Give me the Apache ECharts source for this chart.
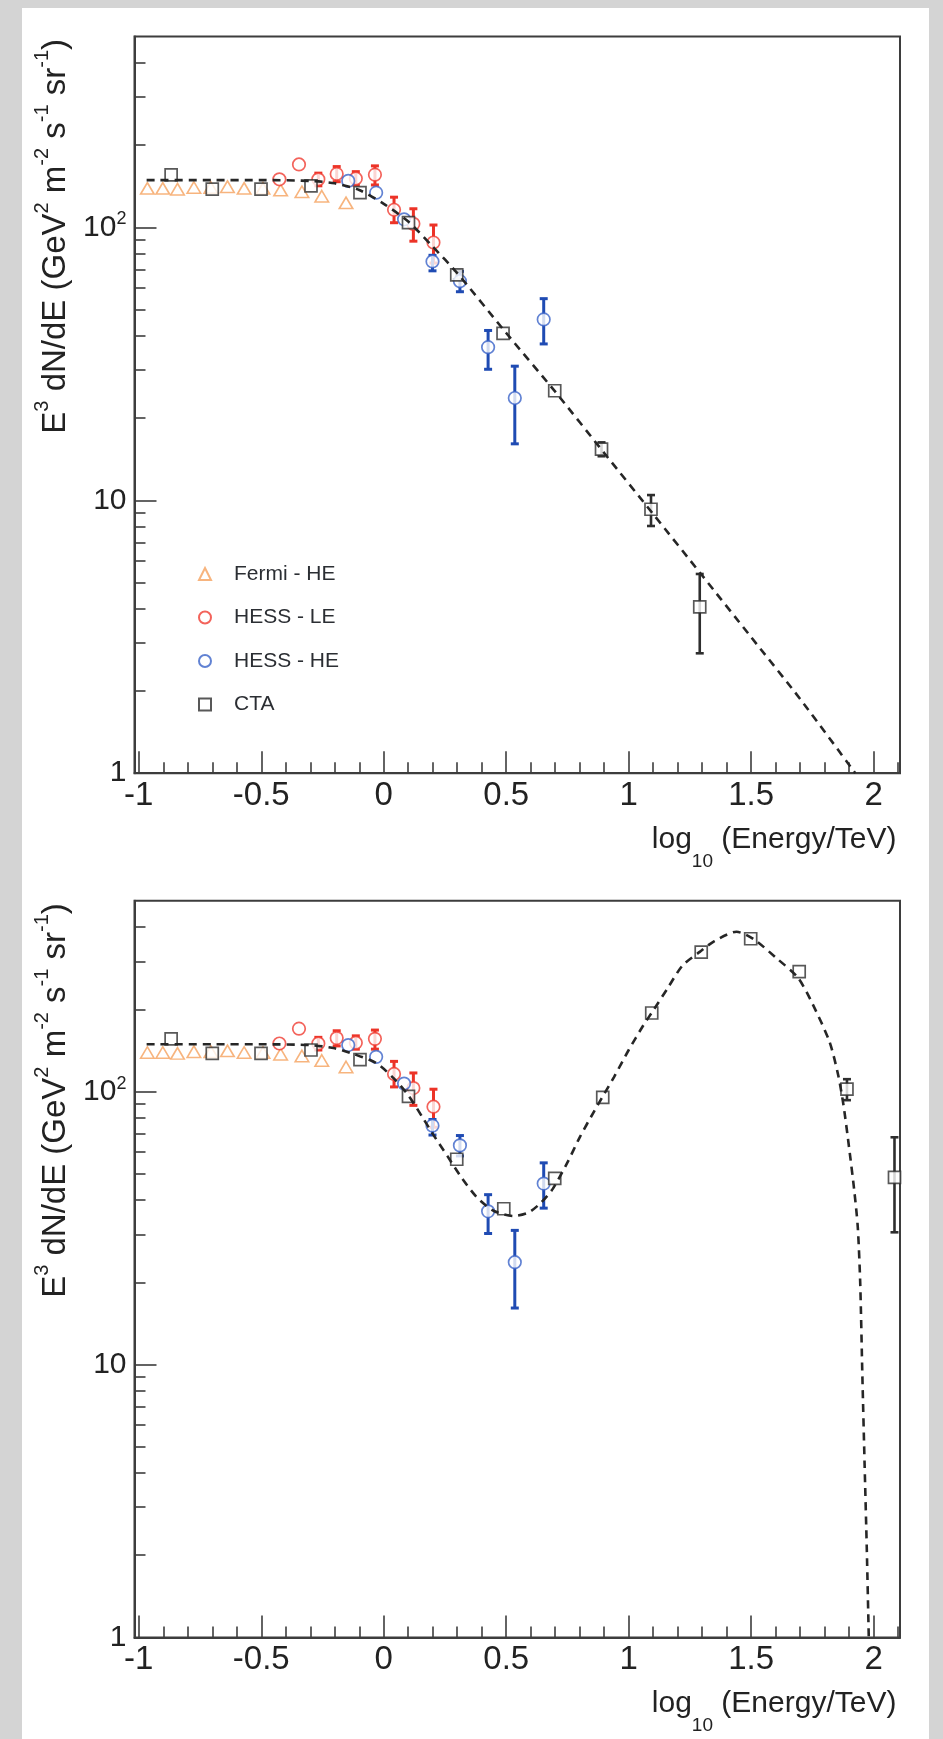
<!DOCTYPE html>
<html>
<head>
<meta charset="utf-8">
<script src="https://cdn.jsdelivr.net/npm/echarts@6/dist/echarts.min.js"></script>
<style>
  html, body { margin: 0; padding: 0; background: #d4d4d4; overflow: hidden; }
  #sheet { position: absolute; left: 22px; top: 8px; width: 907px; height: 1731px; background: #ffffff; }
  #chart { position: absolute; left: 0; top: 0; width: 943px; height: 1739px; }
</style>
</head>
<body>
<div id="sheet"></div>
<div id="chart"></div>
<script>
// ---- Tick positions ----
const xTickValues = [-1, -0.5, 0, 0.5, 1, 1.5, 2];
const xMinorTickValues = [-0.9, -0.8, -0.7, -0.6, -0.4, -0.3, -0.2, -0.1, 0.1, 0.2, 0.3, 0.4,
  0.6, 0.7, 0.8, 0.9, 1.1, 1.2, 1.3, 1.4, 1.6, 1.7, 1.8, 1.9, 2.1];
const yTickValues = [1, 10, 100];
const yMinorTickValues = [2, 3, 4, 5, 6, 7, 8, 9, 20, 30, 40, 50, 60, 70, 80, 90, 200, 300, 400];

// ---- Fermi - HE (same in both panels) ----
const fermiX = [-0.965, -0.902, -0.842, -0.775, -0.706, -0.638, -0.570, -0.493, -0.421, -0.334, -0.253, -0.154];
const fermiY = [139, 139, 138, 140, 140, 141, 139, 139, 137, 135, 130, 123];

// ---- HESS - LE ----
const hessLeX = [-0.426, -0.346, -0.267, -0.192, -0.114, -0.036, 0.042, 0.121, 0.203];
const hessLeY = [150, 170, 150, 157, 151, 156, 116, 103, 88];
const hessLeLow = [null, null, 142, 147, 143, 143, 104, 89, 74];
const hessLeHigh = [null, null, 158, 167, 160, 168, 129, 117, 102];

// ---- HESS - HE ----
const hessHeX = [-0.145, -0.031, 0.083, 0.199, 0.311, 0.426, 0.535, 0.653];
const hessHeY = [148, 134, 107, 75, 63.5, 36.4, 23.7, 46];
const hessHeLow = [null, null, null, 69.3, 58.1, 30.2, 16.1, 37.4];
const hessHeHigh = [null, null, null, 79, 69, 41.9, 31, 54.8];

// ---- CTA, upper panel ----
const ctaTopX = [-0.868, -0.700, -0.501, -0.297, -0.097, 0.101, 0.298, 0.487, 0.698, 0.889, 1.091, 1.290];
const ctaTopY = [155.6, 138, 138, 142, 134, 104, 67, 40.9, 25.2, 15.4, 9.27, 4.07];
const ctaTopLow = [null, null, null, null, null, null, 64.5, null, null, 14.5, 8.05, 2.75];
const ctaTopHigh = [null, null, null, null, null, null, 69.5, null, null, 16.3, 10.45, 5.37];

// ---- CTA, lower panel ----
const ctaBotX = [-0.868, -0.700, -0.501, -0.297, -0.097, 0.101, 0.298, 0.490, 0.698, 0.894, 1.094, 1.296, 1.498, 1.696, 1.891, 2.085];
const ctaBotY = [156, 138, 138, 142, 131, 96, 56.5, 37.2, 48.1, 95.2, 194, 324, 363, 275, 102, 48.5];
const ctaBotLow = [null, null, null, null, null, null, null, null, null, null, null, null, null, null, 93, 30.5];
const ctaBotHigh = [null, null, null, null, null, null, null, null, null, null, null, null, null, null, 111, 68];

// ---- Model curves (dashed) ----
const modelTopX = [-0.968, -0.7, -0.5, -0.3, -0.2, -0.1, 0, 0.1, 0.2, 0.3, 0.5, 0.7, 0.9, 1.1, 1.3, 1.5, 1.7, 1.925];
const modelTopY = [149, 149, 149, 148, 145, 137, 122, 105, 85, 68, 41, 25, 14.9, 8.9, 5.3, 3.15, 1.87, 1.0];

const modelBotX = [-0.968, -0.7, -0.5, -0.3, -0.2, -0.12, -0.03, 0.04, 0.1, 0.16, 0.2, 0.26, 0.32, 0.38,
  0.45, 0.53, 0.59, 0.64, 0.69, 0.75, 0.80, 0.86, 0.90, 0.94, 1.0, 1.06, 1.10, 1.16, 1.22, 1.29, 1.35,
  1.44, 1.51, 1.60, 1.69, 1.75, 1.82, 1.856, 1.877, 1.90, 1.92, 1.935, 1.945, 1.954, 1.963, 1.972, 1.98];
const modelBotY = [149, 149, 149, 148, 144, 137, 127, 112, 97, 80, 70, 58, 48, 41,
  36.5, 35, 36, 39, 44, 55, 68, 85, 98, 113, 142, 175, 198, 240, 290, 325, 356,
  385, 362, 310, 262, 210, 152, 114, 89, 62, 44, 32, 20, 9, 4.3, 2.1, 1.0];

// ---- Styling ----
const FONT = '"Liberation Sans", Arial, Helvetica, sans-serif';
const AXIS_COLOR = '#3d3d3d';
const TEXT_COLOR = '#222222';
const C_FERMI = '#f5a15e';
const C_LE = '#f03c32';
const C_LE_BAR = '#ec3327';
const C_HE = '#3a63c8';
const C_HE_BAR = '#1f4bb3';
const C_CTA = '#2e2e2e';

const X_MIN = -1.0175, X_MAX = 2.1075, Y_MIN = 1, Y_MAX = 500;
const GRID_LEFT = 134.5, GRID_WIDTH = 765.5, GRID_HEIGHT = 736.6;
const PANEL_TOPS = [36.6, 900.8];

function zip(xs, ys) { return xs.map((x, i) => [x, ys[i]]); }
function errorData(xs, lows, highs) {
  const out = [];
  xs.forEach((x, i) => { if (lows[i] != null) out.push([x, lows[i], highs[i]]); });
  return out;
}
function errorBars(color, width) {
  return function (params, api) {
    const x = api.value(0);
    const top = api.coord([x, api.value(2)]);
    const bot = api.coord([x, api.value(1)]);
    const cap = 4;
    const st = { stroke: color, lineWidth: width };
    return {
      type: 'group',
      children: [
        { type: 'line', shape: { x1: top[0], y1: top[1], x2: bot[0], y2: bot[1] }, style: st },
        { type: 'line', shape: { x1: top[0] - cap, y1: top[1], x2: top[0] + cap, y2: top[1] }, style: st },
        { type: 'line', shape: { x1: bot[0] - cap, y1: bot[1], x2: bot[0] + cap, y2: bot[1] }, style: st }
      ]
    };
  };
}

const tickStyle = { color: AXIS_COLOR, width: 1.6 };

function xAxesFor(gi) {
  return [{
    gridIndex: gi, type: 'value', min: X_MIN, max: X_MAX, position: 'bottom',
    axisLine: { show: true, onZero: false, lineStyle: { color: AXIS_COLOR, width: 2 } },
    axisTick: { show: true, inside: true, length: 22, customValues: xTickValues, lineStyle: tickStyle },
    axisLabel: { show: true, customValues: xTickValues, margin: 6, fontSize: 33, fontFamily: FONT,
      color: TEXT_COLOR, formatter: v => String(v) },
    splitLine: { show: false }
  }, {
    gridIndex: gi, type: 'value', min: X_MIN, max: X_MAX, position: 'bottom',
    axisLine: { show: false, onZero: false },
    axisTick: { show: true, inside: true, length: 11, customValues: xMinorTickValues, lineStyle: tickStyle },
    axisLabel: { show: false },
    splitLine: { show: false }
  }];
}

function yAxesFor(gi) {
  return [{
    gridIndex: gi, type: 'log', logBase: 10, min: Y_MIN, max: Y_MAX, position: 'left',
    axisLine: { show: true, onZero: false, lineStyle: { color: AXIS_COLOR, width: 2 } },
    axisTick: { show: true, inside: true, length: 22, customValues: yTickValues, lineStyle: tickStyle },
    axisLabel: {
      show: true, customValues: yTickValues, margin: 8,
      formatter: v => (Math.round(v) === 100 ? '{n|10}{s|2}' : '{n|' + Math.round(v) + '}'),
      rich: {
        n: { fontSize: 30, lineHeight: 34, fontFamily: FONT, color: TEXT_COLOR },
        s: { fontSize: 18, lineHeight: 18, fontFamily: FONT, color: TEXT_COLOR, verticalAlign: 'top' }
      }
    },
    splitLine: { show: false }, minorTick: { show: false }
  }, {
    gridIndex: gi, type: 'log', logBase: 10, min: Y_MIN, max: Y_MAX, position: 'left',
    axisLine: { show: false, onZero: false },
    axisTick: { show: true, inside: true, length: 11, customValues: yMinorTickValues, lineStyle: tickStyle },
    axisLabel: { show: false },
    splitLine: { show: false }, minorTick: { show: false }
  }];
}

function panelSeries(gi, ctaX, ctaY, ctaLow, ctaHigh, modelX, modelY) {
  const xi = gi * 2, yi = gi * 2;
  const base = { xAxisIndex: xi, yAxisIndex: yi };
  return [
    Object.assign({ type: 'custom', name: 'HESS - LE bars', z: 2, renderItem: errorBars(C_LE_BAR, 3),
      data: errorData(hessLeX, hessLeLow, hessLeHigh), encode: { x: 0, y: [1, 2] } }, base),
    Object.assign({ type: 'custom', name: 'HESS - HE bars', z: 2, renderItem: errorBars(C_HE_BAR, 3),
      data: errorData(hessHeX, hessHeLow, hessHeHigh), encode: { x: 0, y: [1, 2] } }, base),
    Object.assign({ type: 'custom', name: 'CTA bars', z: 2, renderItem: errorBars(C_CTA, 2.6),
      data: errorData(ctaX, ctaLow, ctaHigh), encode: { x: 0, y: [1, 2] } }, base),
    Object.assign({ type: 'scatter', name: 'Fermi - HE', z: 3, symbol: 'triangle', symbolSize: [13.5, 11.5],
      itemStyle: { color: '#ffffff', borderColor: C_FERMI, borderWidth: 1.6 },
      data: zip(fermiX, fermiY) }, base),
    Object.assign({ type: 'scatter', name: 'HESS - LE', z: 3, symbol: 'circle', symbolSize: 12.5,
      itemStyle: { color: '#ffffff', borderColor: C_LE, borderWidth: 1.7 },
      data: zip(hessLeX, hessLeY) }, base),
    Object.assign({ type: 'scatter', name: 'HESS - HE', z: 3, symbol: 'circle', symbolSize: 12.5,
      itemStyle: { color: '#ffffff', borderColor: C_HE, borderWidth: 1.7 },
      data: zip(hessHeX, hessHeY) }, base),
    Object.assign({ type: 'scatter', name: 'CTA', z: 3, symbol: 'rect', symbolSize: 12,
      itemStyle: { color: '#ffffff', borderColor: C_CTA, borderWidth: 1.7 },
      data: zip(ctaX, ctaY) }, base),
    Object.assign({ type: 'line', name: 'model ' + gi, z: 4, showSymbol: false, symbol: 'none',
      smooth: 0.25, clip: true,
      lineStyle: { color: '#262626', width: 2.6, type: [8, 6] },
      data: zip(modelX, modelY) }, base)
  ];
}

// Axis titles drawn as rich text blocks
function yTitle(top) {
  return {
    type: 'text', x: 55.5, y: top, rotation: Math.PI / 2, silent: true,
    style: {
      text: '{m|E}{s|3}{m| dN/dE (GeV}{s|2}{m| m}{s|-2}{m| s}{s|-1}{m| sr}{s|-1}{m|)}',
      align: 'right', verticalAlign: 'middle',
      rich: {
        m: { fontSize: 33, lineHeight: 46, fontFamily: FONT, fill: TEXT_COLOR },
        s: { fontSize: 20, lineHeight: 20, fontFamily: FONT, fill: TEXT_COLOR, verticalAlign: 'top' }
      }
    }
  };
}
function xTitle(midY) {
  return {
    type: 'text', x: 896.4, y: midY, silent: true,
    style: {
      text: '{m|log}{b|10}{m| (Energy/TeV)}',
      align: 'right', verticalAlign: 'middle',
      rich: {
        m: { fontSize: 30, lineHeight: 63, fontFamily: FONT, fill: TEXT_COLOR },
        b: { fontSize: 19, lineHeight: 19, fontFamily: FONT, fill: TEXT_COLOR, verticalAlign: 'bottom' }
      }
    }
  };
}

const chart = echarts.init(document.getElementById('chart'), null, { renderer: 'canvas', width: 943, height: 1739 });

const option = {
  animation: false,
  backgroundColor: 'transparent',
  grid: PANEL_TOPS.map(t => ({
    left: GRID_LEFT, top: t, width: GRID_WIDTH, height: GRID_HEIGHT,
    show: true, borderColor: AXIS_COLOR, borderWidth: 2, backgroundColor: 'transparent',
    containLabel: false, outerBoundsMode: 'none'
  })),
  xAxis: xAxesFor(0).concat(xAxesFor(1)),
  yAxis: yAxesFor(0).concat(yAxesFor(1)),
  legend: {
    data: ['Fermi - HE', 'HESS - LE', 'HESS - HE', 'CTA'],
    orient: 'vertical', left: 193, top: 557.5, padding: 5,
    itemWidth: 12, itemHeight: 12, itemGap: 20.5, selectedMode: false,
    textStyle: { fontSize: 21, lineHeight: 23, fontFamily: FONT, color: '#2b2e33', padding: [0, 0, 0, 18] }
  },
  graphic: [
    yTitle(39), yTitle(39 + 864.2),
    xTitle(840), xTitle(840 + 864.2)
  ],
  series: panelSeries(0, ctaTopX, ctaTopY, ctaTopLow, ctaTopHigh, modelTopX, modelTopY)
    .concat(panelSeries(1, ctaBotX, ctaBotY, ctaBotLow, ctaBotHigh, modelBotX, modelBotY))
};

chart.setOption(option);
</script>
</body>
</html>
